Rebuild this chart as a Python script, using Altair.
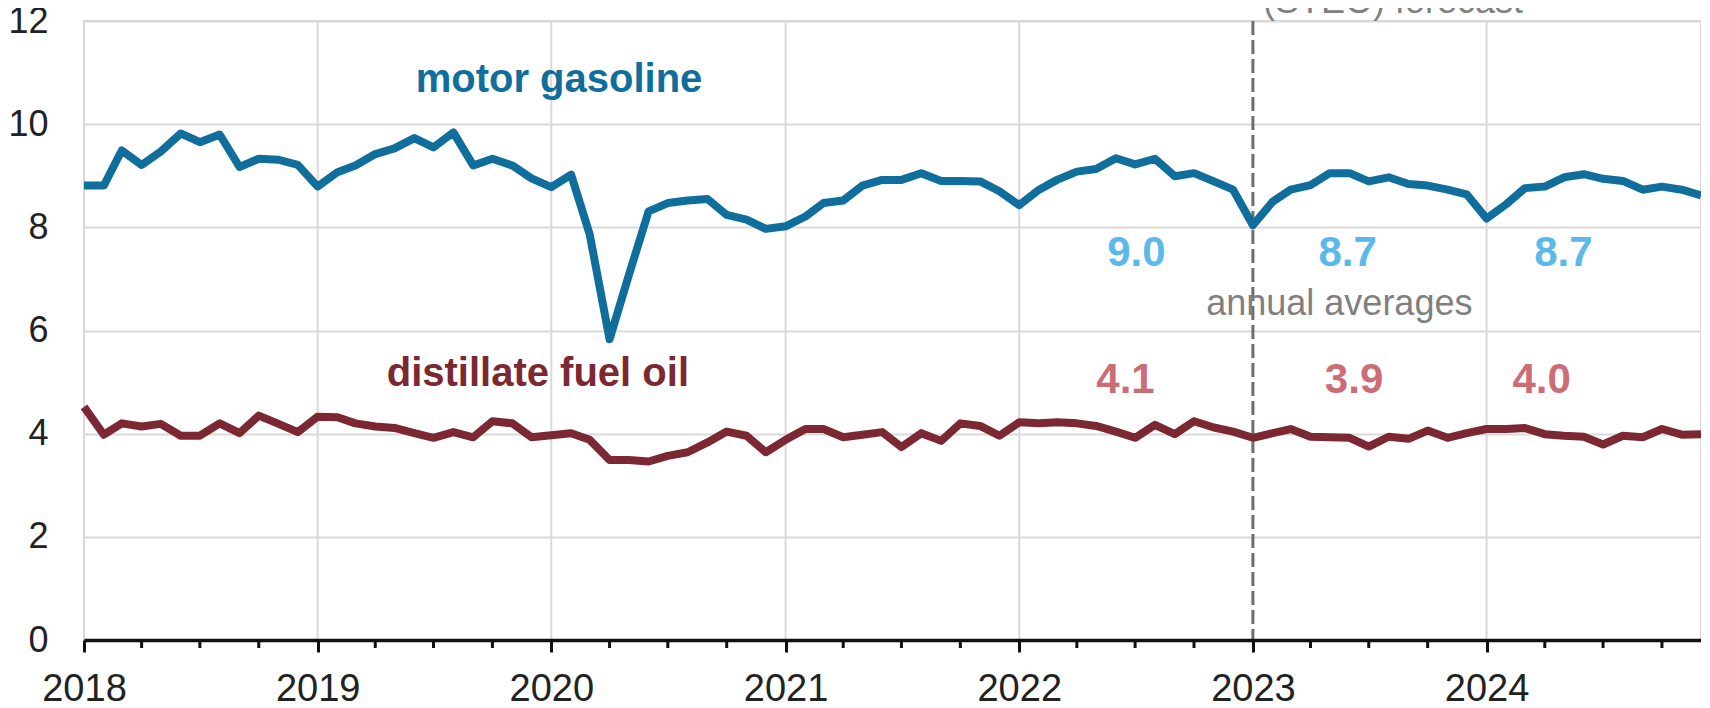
import altair as alt
import pandas as pd

# ---------------- data ----------------
months = pd.date_range("2018-01-01", "2024-12-01", freq="MS").strftime("%Y-%m-%dT00:00:00").tolist()

gasoline = [
    8.81, 8.81, 9.49, 9.21, 9.47, 9.82, 9.65, 9.80, 9.17, 9.33, 9.31, 9.21,
    8.79, 9.07, 9.20, 9.42, 9.53, 9.73, 9.55, 9.84, 9.20, 9.33, 9.20, 8.95,
    8.78, 9.02, 7.86, 5.83, 7.07, 8.31, 8.47, 8.52, 8.55, 8.24, 8.15, 7.97,
    8.02, 8.21, 8.47, 8.52, 8.81, 8.92, 8.92, 9.05, 8.90, 8.90, 8.89, 8.70,
    8.43, 8.73, 8.92, 9.08, 9.13, 9.34, 9.22, 9.33, 8.99, 9.05, 8.89, 8.73,
    8.04, 8.50, 8.73, 8.82, 9.05, 9.05, 8.89, 8.97, 8.84, 8.81, 8.73, 8.64,
    8.17, 8.45, 8.76, 8.79, 8.97, 9.03, 8.94, 8.90, 8.73, 8.79, 8.73, 8.62,
]
distillate = [
    4.52, 3.98, 4.20, 4.14, 4.19, 3.96, 3.96, 4.20, 4.01, 4.35, 4.19, 4.03,
    4.33, 4.32, 4.20, 4.14, 4.11, 4.01, 3.92, 4.03, 3.93, 4.24, 4.20, 3.93,
    3.97, 4.01, 3.88, 3.49, 3.49, 3.46, 3.57, 3.64, 3.83, 4.04, 3.96, 3.64,
    3.88, 4.09, 4.09, 3.93, 3.98, 4.03, 3.74, 4.01, 3.86, 4.20, 4.15, 3.96,
    4.22, 4.20, 4.22, 4.20, 4.15, 4.04, 3.92, 4.17, 3.99, 4.24, 4.12, 4.04,
    3.92, 4.01, 4.09, 3.94, 3.93, 3.92, 3.75, 3.94, 3.90, 4.06, 3.92, 4.01,
    4.09, 4.09, 4.11, 3.99, 3.96, 3.94, 3.79, 3.96, 3.93, 4.09, 3.98, 3.99,
]

series_names = ["motor gasoline", "distillate fuel oil"]
series_colors = ["#0f6e9c", "#7c2833"]

years = [2018, 2019, 2020, 2021, 2022, 2023, 2024]
grid_years = ["2018-01-01T00:00:00", "2019-01-01T00:00:00", "2020-01-01T00:00:00",
              "2021-01-01T00:00:00", "2022-01-01T00:00:00", "2024-01-01T00:00:00"]
quarter_ticks = [f"{y}-{m:02d}-01T00:00:00" for y in years for m in (4, 7, 10)]
forecast_start = ["2023-01-01T00:00:00"]
y_ticks = [0, 2, 4, 6, 8, 10, 12]

# annotation texts and their anchors (date, value)
series_label_dates = ["2020-01-13T00:00:00", "2019-12-11T00:00:00"]
series_label_values = [10.63, 4.93]

avg_gas_text = ["9.0", "8.7", "8.7"]
avg_gas_dates = ["2022-07-03T00:00:00", "2023-05-29T00:00:00", "2024-04-30T00:00:00"]
avg_gas_value = 7.50
avg_dist_text = ["4.1", "3.9", "4.0"]
avg_dist_dates = ["2022-06-16T00:00:00", "2023-06-08T00:00:00", "2024-03-27T00:00:00"]
avg_dist_value = 5.05

note_text = ["annual averages", "(STEO) forecast"]
note_dates = ["2023-05-16T00:00:00", "2023-08-08T00:00:00"]
note_values = [6.31, 12.15]

# ---------------- frames ----------------
lines_df = pd.DataFrame({
    "date": months * 2,
    "value": gasoline + distillate,
    "series": [series_names[0]] * len(months) + [series_names[1]] * len(months),
})
labels_df = pd.DataFrame({"date": series_label_dates, "value": series_label_values,
                          "series": series_names})
gas_avg_df = pd.DataFrame({"date": avg_gas_dates, "value": [avg_gas_value] * 3, "text": avg_gas_text})
dist_avg_df = pd.DataFrame({"date": avg_dist_dates, "value": [avg_dist_value] * 3, "text": avg_dist_text})
note_df = pd.DataFrame({"date": note_dates, "value": note_values, "text": note_text})

FONT = "Liberation Sans"
W, H = 1617, 619

xscale = alt.Scale(domain=[alt.DateTime(year=2018, month=1, date=1),
                           alt.DateTime(year=2024, month=12, date=1)])
yscale = alt.Scale(domain=[0, 12], nice=False)
color_scale = alt.Scale(domain=series_names, range=series_colors)

x_axis = alt.Axis(
    values=[alt.DateTime(year=y, month=1, date=1) for y in years],
    format="%Y", title=None, grid=False, labelFlush=False, labelOverlap=False,
    labelFont=FONT, labelFontSize=38, labelColor="#222222", labelPadding=18,
    tickSize=12, tickWidth=3, tickColor="#111111",
    domainColor="#111111", domainWidth=3.5, zindex=1,
)
y_axis = alt.Axis(
    values=y_ticks, title=None, grid=True, gridColor="#d9d9d9", gridWidth=2,
    domain=False, ticks=False, tickSize=0,
    labelFont=FONT, labelFontSize=36, labelColor="#222222", labelPadding=36,
)

year_grid = alt.Chart(pd.DataFrame({"date": grid_years})).mark_rule(
    color="#d9d9d9", strokeWidth=2
).encode(x=alt.X("date:T", scale=xscale, axis=x_axis))

forecast_rule = alt.Chart(pd.DataFrame({"date": forecast_start})).mark_rule(
    color="#6e6e6e", strokeWidth=3, strokeDash=[14, 5]
).encode(x=alt.X("date:T", scale=xscale))

minor_ticks = alt.Chart(pd.DataFrame({"date": quarter_ticks})).mark_rule(
    color="#111111", strokeWidth=3
).encode(x=alt.X("date:T", scale=xscale), y=alt.value(H), y2=alt.value(H + 8))

lines = alt.Chart(lines_df).mark_line(strokeWidth=8, strokeJoin="round").encode(
    x=alt.X("date:T", scale=xscale),
    y=alt.Y("value:Q", scale=yscale, axis=y_axis),
    color=alt.Color("series:N", scale=color_scale, legend=None),
    detail="series:N",
)

series_labels = alt.Chart(labels_df).mark_text(
    font=FONT, fontSize=40, fontWeight="bold", align="center", baseline="alphabetic"
).encode(
    x=alt.X("date:T", scale=xscale),
    y=alt.Y("value:Q", scale=yscale),
    text="series:N",
    color=alt.Color("series:N", scale=color_scale, legend=None),
)

NUM_FONT = "Liberation Sans Narrow, Liberation Sans"
gas_avg = alt.Chart(gas_avg_df).mark_text(
    font=NUM_FONT, fontSize=42, fontWeight="bold", color="#5ab9ea",
    align="center", baseline="middle"
).encode(x=alt.X("date:T", scale=xscale), y=alt.Y("value:Q", scale=yscale), text="text:N")

dist_avg = alt.Chart(dist_avg_df).mark_text(
    font=NUM_FONT, fontSize=42, fontWeight="bold", color="#cc6c77",
    align="center", baseline="middle"
).encode(x=alt.X("date:T", scale=xscale), y=alt.Y("value:Q", scale=yscale), text="text:N")

notes = alt.Chart(note_df).mark_text(
    font=FONT, fontSize=36, color="#808080", align="center", baseline="alphabetic"
).encode(x=alt.X("date:T", scale=xscale), y=alt.Y("value:Q", scale=yscale), text="text:N")

chart = alt.layer(
    year_grid, forecast_rule, minor_ticks, lines, series_labels, gas_avg, dist_avg, notes
).properties(
    width=W, height=H,
    padding={"left": 76, "top": 13, "right": 0, "bottom": 64},
    autosize=alt.AutoSizeParams(type="none"),
    background="white",
).configure_view(
    stroke="#d9d9d9", strokeWidth=2
)

chart.save("out.html", embed_options={"renderer": "svg", "actions": False})
